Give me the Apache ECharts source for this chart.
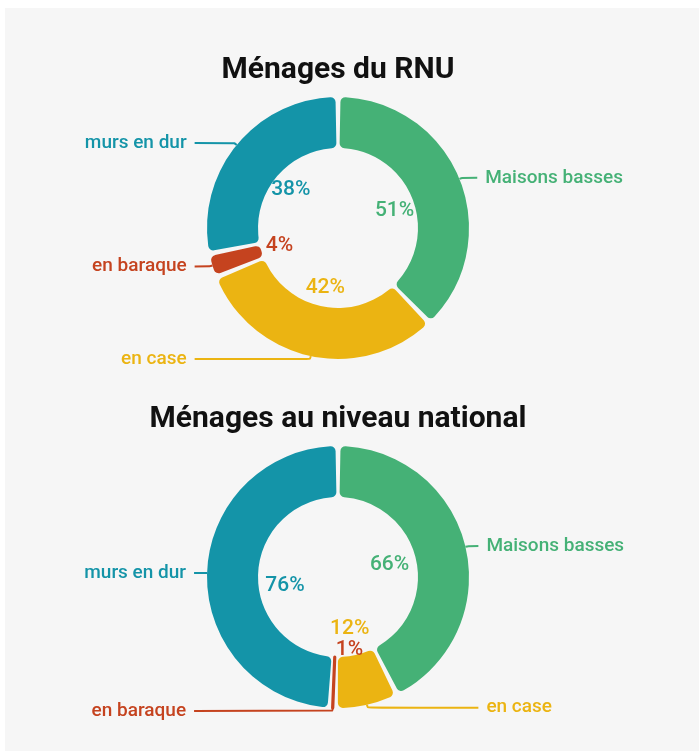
<!DOCTYPE html>
<html>
<head>
<meta charset="utf-8">
<title>Ménages - type de logement</title>
<script src="https://cdn.jsdelivr.net/npm/echarts@6/dist/echarts.min.js"></script>
<style>
body { margin: 0; background: #fff; }
#fond { position: absolute; left: 5px; top: 8px; right: 0; bottom: 0; background: #f6f6f6; }
#main { position: absolute; left: 0; top: 0; width: 676px; height: 751px; }
</style>
</head>
<body>
<div id="fond"></div>
<div id="main"></div>
<script>
// ordre horaire a partir du haut
var categories = ['Maisons basses', 'en case', 'en baraque', 'murs en dur'];
var couleurs = ['#45b176', '#ebb412', '#c5431f', '#1494a8'];
var valeursRNU = [51, 42, 4, 38];
var valeursNational = [66, 12, 1, 76];
var titres = ['Ménages du RNU', 'Ménages au niveau national'];

var police = 'Roboto, "DejaVu Sans", sans-serif';

// anneau avec les noms a l'exterieur
function anneau(valeurs, centre, long2) {
    return {
        type: 'pie',
        center: centre,
        radius: [80, 131],
        startAngle: 90,
        padAngle: 2.2,
        silent: true,
        itemStyle: { borderRadius: 5 },
        label: {
            formatter: '{b}',
            fontFamily: police,
            fontSize: 19,
            fontWeight: 500,
            alignTo: 'labelLine',
            distanceToLabelLine: 8
        },
        labelLine: { length: 3, length2: long2, smooth: 0.25, lineStyle: { width: 2 } },
        data: categories.map(function (c, i) {
            return {
                name: c,
                value: valeurs[i],
                // petite part : on l'epaissit pour qu'elle reste visible
                itemStyle: { color: couleurs[i], borderColor: couleurs[i], borderWidth: valeurs[i] < 2 ? 3 : 0 },
                label: { color: couleurs[i] },
                labelLine: { lineStyle: { color: couleurs[i] } }
            };
        })
    };
}

// pourcentages dans le trou
function pourcents(valeurs, centre, rayon) {
    return {
        type: 'pie',
        center: centre,
        radius: rayon,
        startAngle: 90,
        silent: true,
        itemStyle: { color: 'transparent' },
        label: {
            position: 'inside',
            formatter: '{c}%',
            fontFamily: police,
            fontSize: 21,
            fontWeight: 500
        },
        labelLine: { show: false },
        labelLayout: function (p) {
            // etiquette d'une toute petite part : calee a gauche du point
            var dx = valeurs[p.dataIndex] < 2 ? p.labelRect.width / 2 : 0;
            return { dx: dx, moveOverlap: 'shiftY' };
        },
        data: categories.map(function (c, i) {
            return { name: c, value: valeurs[i], label: { color: couleurs[i] } };
        })
    };
}

var chart = echarts.init(document.getElementById('main'));
var option = {
    backgroundColor: 'transparent',
    animation: false,
    title: [
        { text: titres[0], left: 'center', top: 50,
          textStyle: { fontFamily: police, fontSize: 30, fontWeight: 'bold', color: '#111' } },
        { text: titres[1], left: 'center', top: 399,
          textStyle: { fontFamily: police, fontSize: 30, fontWeight: 'bold', color: '#111' } }
    ],
    series: [
        anneau(valeursRNU, [338, 228], 15),
        pourcents(valeursRNU, [338, 228], [40, 76]),
        anneau(valeursNational, [338, 577], 10),
        pourcents(valeursNational, [338, 577], [35, 65])
    ]
};
chart.setOption(option);
</script>
</body>
</html>
